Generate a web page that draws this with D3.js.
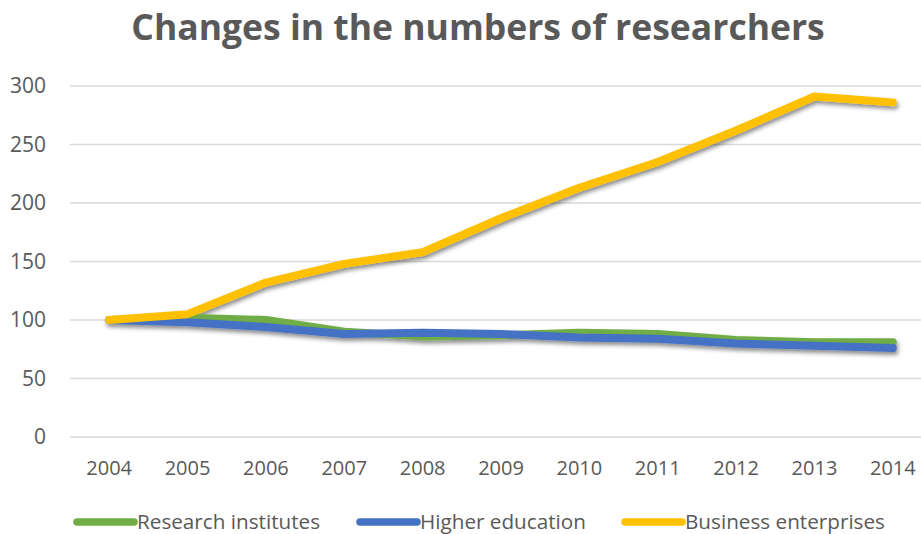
<!DOCTYPE html>
<html>
<head>
<meta charset="utf-8">
<script src="https://cdn.jsdelivr.net/npm/d3@7"></script>
<style>
  html, body { margin: 0; padding: 0; background: #fff; }
  svg { display: block; }
  text { font-family: "Open Sans", "Noto Sans", sans-serif; fill: #595959; }
</style>
</head>
<body>
<svg id="chart" width="921" height="534"></svg>
<script>
// Index of researchers by sector (2004 = 100)
const years = ["2004","2005","2006","2007","2008","2009","2010","2011","2012","2013","2014"];
const researchInstitutes = [100, 102, 100, 90, 86, 87, 89, 88, 83, 81, 81];
const higherEducation   = [100, 98, 94, 88, 89, 88, 85, 84, 80, 78, 76];
const businessEnterprises = [100, 105, 132, 148, 158, 187, 213, 235, 262, 291, 286];
const yTicks = [0, 50, 100, 150, 200, 250, 300];

const seriesNames = ["Research institutes", "Higher education", "Business enterprises"];
const seriesColors = ["#70AD47", "#4472C4", "#FFC000"];
const series = [researchInstitutes, higherEducation, businessEnterprises].map((vals, i) => ({
  name: seriesNames[i], color: seriesColors[i], values: vals
}));

const svg = d3.select("#chart");
const W = 921, H = 534;
const plot = { left: 70, right: 932, top: 86, bottom: 437 };

// soft drop shadow under the lines
const defs = svg.append("defs");
const f = defs.append("filter").attr("id", "shadow")
  .attr("x", "-5%").attr("y", "-20%").attr("width", "110%").attr("height", "140%");
f.append("feDropShadow").attr("dx", 1.5).attr("dy", 3).attr("stdDeviation", 2)
  .attr("flood-color", "#000").attr("flood-opacity", 0.45);

const x = d3.scaleBand().domain(years).range([plot.left, plot.right]).paddingInner(0).paddingOuter(0);
const y = d3.scaleLinear().domain([0, 300]).range([plot.bottom, plot.top]);
const cx = d => x(d) + x.bandwidth() / 2;

// title
svg.append("text")
  .attr("x", 478).attr("y", 40)
  .attr("text-anchor", "middle")
  .style("font-size", "35.5px").style("font-weight", "700")
  .text("Changes in the numbers of researchers");

// gridlines
svg.append("g").selectAll("line").data(yTicks).join("line")
  .attr("x1", plot.left).attr("x2", W)
  .attr("y1", d => y(d)).attr("y2", d => y(d))
  .attr("stroke", "#d9d9d9").attr("stroke-width", 1.5);

// y axis labels
const yAxis = d3.axisLeft(y).tickValues(yTicks).tickSize(0).tickPadding(0);
const gy = svg.append("g").attr("transform", `translate(${plot.left - 24},0)`).call(yAxis);
gy.select(".domain").remove();
gy.selectAll("text").style("font-size", "21px").attr("fill", "#595959")
  .style("font-family", "'Open Sans', sans-serif");

// x axis labels
const xAxis = d3.axisBottom(x).tickSize(0).tickPadding(0);
const gx = svg.append("g").attr("transform", `translate(0,${plot.bottom + 24})`).call(xAxis);
gx.select(".domain").remove();
gx.selectAll("text").style("font-size", "20px").attr("fill", "#595959")
  .style("font-family", "'Open Sans', sans-serif");

// lines
const line = d3.line().x((d, i) => cx(years[i])).y(d => y(d));
svg.append("g").attr("filter", "url(#shadow)")
  .selectAll("path").data(series).join("path")
  .attr("d", d => line(d.values))
  .attr("fill", "none")
  .attr("stroke", d => d.color)
  .attr("stroke-width", 8)
  .attr("stroke-linejoin", "round")
  .attr("stroke-linecap", "round");

// legend
const legendX = [77, 360, 625];
const lg = svg.append("g").selectAll("g").data(series).join("g")
  .attr("transform", (d, i) => `translate(${legendX[i]},522)`);
lg.append("line").attr("x1", 0).attr("x2", 57).attr("y1", 0).attr("y2", 0)
  .attr("stroke", d => d.color).attr("stroke-width", 7.5).attr("stroke-linecap", "round");
lg.append("text").attr("x", 60).attr("y", 6.5)
  .style("font-size", "20.7px")
  .text(d => d.name);
</script>
</body>
</html>
